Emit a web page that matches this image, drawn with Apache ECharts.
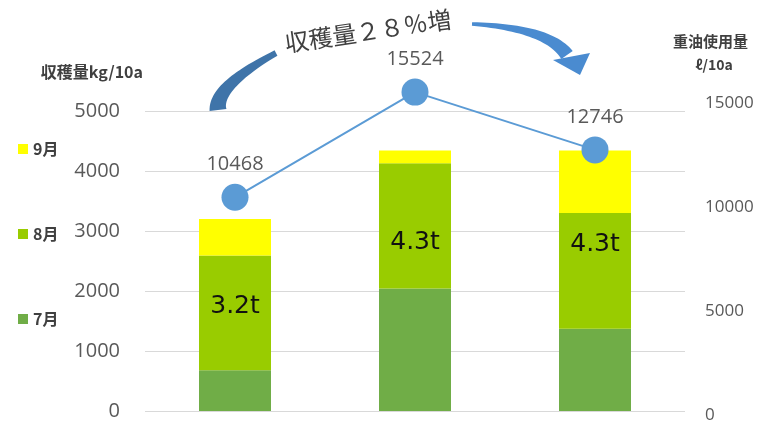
<!DOCTYPE html>
<html>
<head>
<meta charset="utf-8">
<script src="https://cdn.jsdelivr.net/npm/echarts@6/dist/echarts.min.js"></script>
<style>
  html, body { margin: 0; padding: 0; background: #ffffff; }
  #chart { width: 759px; height: 430px; }
</style>
</head>
<body>
<div id="chart"></div>
<script>
// Harvest per 10a, split by month (kg/10a)
const categories = ['1', '2', '3'];
const july = [680, 2040, 1370];
const august = [1910, 2090, 1930];
const september = [610, 210, 1040];
// Heavy oil used per 10a (ℓ/10a)
const fuelOil = [10468, 15524, 12746];
// Axis ticks
const harvestTicks = [0, 1000, 2000, 3000, 4000, 5000];
const fuelTicks = [0, 5000, 10000, 15000];

// vertical nudges for the total-tonnage labels
const totalLabelShift = [-6, 17, -26];

const totals = categories.map((_, i) => july[i] + august[i] + september[i]);

// Tapered band along a quadratic curve (used for the decorative arrows)
function taperedBand(p0, c, p2, w0, w1, n) {
  const left = [], right = [];
  for (let k = 0; k <= n; k++) {
    const t = k / n, u = 1 - t;
    const x = u * u * p0[0] + 2 * u * t * c[0] + t * t * p2[0];
    const y = u * u * p0[1] + 2 * u * t * c[1] + t * t * p2[1];
    let dx = 2 * u * (c[0] - p0[0]) + 2 * t * (p2[0] - c[0]);
    let dy = 2 * u * (c[1] - p0[1]) + 2 * t * (p2[1] - c[1]);
    const len = Math.hypot(dx, dy) || 1;
    dx /= len; dy /= len;
    const hw = (w0 + (w1 - w0) * t) / 2;
    left.push([x - dy * hw, y + dx * hw]);
    right.push([x + dy * hw, y - dx * hw]);
  }
  return left.concat(right.reverse());
}

const cjk = '"Noto Sans CJK JP", "Noto Sans", sans-serif';
const num = '"Open Sans", "Liberation Sans", sans-serif';
const plain = v => String(v);

const chart = echarts.init(document.getElementById('chart'), null, { renderer: 'canvas' });

chart.setOption({
  backgroundColor: '#ffffff',
  animation: false,
  legend: {
    orient: 'vertical',
    left: 13,
    top: 136,
    itemWidth: 10,
    itemHeight: 10,
    itemGap: 69,
    icon: 'rect',
    data: ['9月', '8月', '7月'],
    textStyle: { fontFamily: cjk, fontSize: 16, fontWeight: 'bold', color: '#404040', lineHeight: 16 }
  },
  grid: [
    { left: 145, right: 74, top: 111, bottom: 19 },
    { left: 145, right: 74, top: 103, bottom: 15 }
  ],
  xAxis: [
    {
      type: 'category', gridIndex: 0, data: categories,
      axisLine: { show: false }, axisTick: { show: false }, axisLabel: { show: false }
    },
    {
      type: 'category', gridIndex: 1, data: categories, show: false
    }
  ],
  yAxis: [
    {
      type: 'value', gridIndex: 0,
      min: harvestTicks[0], max: harvestTicks[harvestTicks.length - 1],
      interval: harvestTicks[1] - harvestTicks[0],
      name: '収穫量kg/10a',
      nameLocation: 'end',
      nameGap: 39,
      nameTextStyle: {
        fontFamily: cjk, fontSize: 16, fontWeight: 'bold', color: '#404040',
        align: 'right', verticalAlign: 'middle', padding: [0, 2, 0, 0]
      },
      axisLine: { show: false }, axisTick: { show: false },
      axisLabel: { fontFamily: num, fontSize: 20, color: '#595959', margin: 25, formatter: plain },
      splitLine: { lineStyle: { color: '#d9d9d9', width: 1 } }
    },
    {
      type: 'value', gridIndex: 1, position: 'right',
      min: fuelTicks[0], max: fuelTicks[fuelTicks.length - 1],
      interval: fuelTicks[1] - fuelTicks[0],
      axisLine: { show: false }, axisTick: { show: false },
      axisLabel: { fontFamily: num, fontSize: 17, color: '#595959', margin: 20, formatter: plain },
      splitLine: { show: false }
    }
  ],
  series: [
    {
      name: '7月', type: 'bar', stack: 'harvest', barWidth: 72,
      xAxisIndex: 0, yAxisIndex: 0,
      itemStyle: { color: '#70ad47' },
      data: july
    },
    {
      name: '8月', type: 'bar', stack: 'harvest', barWidth: 72,
      xAxisIndex: 0, yAxisIndex: 0,
      itemStyle: { color: '#99cc00' },
      data: august.map((v, i) => ({
        value: v,
        label: {
          show: true,
          position: 'inside',
          offset: [0, totalLabelShift[i]],
          formatter: () => (totals[i] / 1000).toFixed(1) + 't',
          fontFamily: '"DejaVu Sans", sans-serif',
          fontSize: 25,
          color: '#111111'
        }
      }))
    },
    {
      name: '9月', type: 'bar', stack: 'harvest', barWidth: 72,
      xAxisIndex: 0, yAxisIndex: 0,
      itemStyle: { color: '#ffff00' },
      data: september
    },
    {
      name: '重油使用量', type: 'line',
      xAxisIndex: 1, yAxisIndex: 1,
      z: 5, clip: false,
      symbol: 'circle', symbolSize: 27,
      lineStyle: { color: '#5b9bd5', width: 2 },
      itemStyle: { color: '#5b9bd5' },
      label: {
        show: true, position: 'top', distance: 9,
        fontFamily: num, fontSize: 20, color: '#595959'
      },
      data: fuelOil
    }
  ],
  graphic: [
    {
      type: 'text', left: 673, top: 34,
      style: { text: '重油使用量', font: 'bold 15px ' + cjk, fill: '#404040' }
    },
    {
      type: 'text', x: 714, y: 65,
      style: {
        text: 'ℓ/10a', font: 'bold 14px ' + cjk, fill: '#404040',
        textAlign: 'center', textVerticalAlign: 'middle'
      }
    },
    {
      type: 'text', x: 368, y: 31, rotation: 0.145,
      style: {
        text: '収穫量２８％増', font: '24px ' + cjk, fill: '#404040',
        textAlign: 'center', textVerticalAlign: 'middle'
      }
    },
    {
      type: 'polygon',
      shape: { points: taperedBand([218, 110], [215, 86], [276, 53], 17, 6, 30) },
      style: { fill: '#3f74a9' }
    },
    {
      type: 'polygon',
      shape: { points: taperedBand([472, 24], [548, 28], [567, 55], 3.5, 14, 30) },
      style: { fill: '#4a8bd0' }
    },
    {
      type: 'polygon',
      shape: { points: [[553, 60], [590, 53], [580, 75]] },
      style: { fill: '#4a8bd0' }
    }
  ]
});
</script>
</body>
</html>
